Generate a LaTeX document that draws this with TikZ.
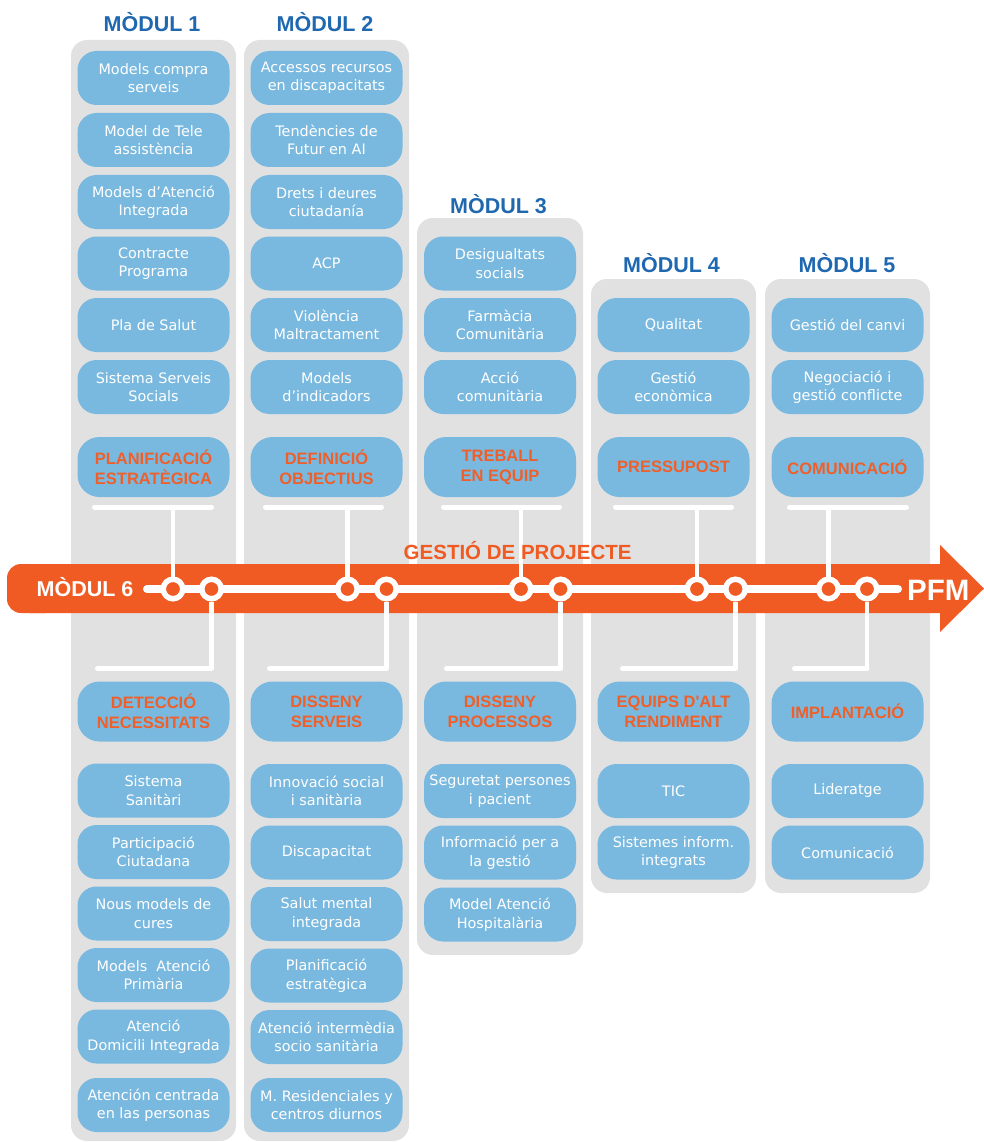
\documentclass[tikz,border=0pt]{standalone}
\usepackage{fontspec}
\setmainfont{DejaVu Sans}
\newfontfamily\hfont{Liberation Sans}
\definecolor{orng}{HTML}{EF5B23}
\definecolor{orngtxt}{HTML}{EF5F2A}
\definecolor{hblue}{HTML}{1F68B0}
\definecolor{bxblue}{HTML}{7AB9DF}
\definecolor{pgray}{HTML}{E1E1E1}
\tikzset{
 item/.style={fill=bxblue, rounded corners=19pt, minimum width=152pt, minimum height=54pt, inner sep=0pt, align=center, text=white, font=\fontsize{14.4}{18.5}\selectfont},
 ttl/.style={item, minimum height=60pt, rounded corners=22pt, text=orngtxt, font=\hfont\bfseries\fontsize{16.5}{20}\selectfont},
 hdr/.style={anchor=base, text=hblue, font=\hfont\bfseries\fontsize{21.5}{24}\selectfont, inner sep=0pt},
 panel/.style={fill=pgray, rounded corners=16pt},
 dot/.style={circle, minimum size=19.5pt, inner sep=0pt, draw=white, line width=5.5pt, fill=orng},
 stem/.style={draw=white, line width=4.5pt},
 bar/.style={draw=white, line width=5pt, line cap=round},
 bandtxt/.style={anchor=base west, inner sep=0pt, text=white, font=\hfont\bfseries\fontsize{21.5}{24}\selectfont},
}
\begin{document}
\begin{tikzpicture}[x=1pt,y=-1pt]
\useasboundingbox (0,0) rectangle (984,1142);
% panels
\fill[panel] (71,40) rectangle (236,1141);
\fill[panel] (244,40) rectangle (409,1141);
\fill[panel] (417,218) rectangle (583,955);
\fill[panel] (591,279) rectangle (756,893);
\fill[panel] (765,279) rectangle (930,893);
% headers
\node[hdr] (h1) at (152,32) {MÒDUL 1};
\node[hdr] (h2) at (325,32) {MÒDUL 2};
\node[hdr] (h3) at (498.5,213) {MÒDUL 3};
\node[hdr] (h4) at (671.5,272) {MÒDUL 4};
\node[hdr] (h5) at (847,272) {MÒDUL 5};
% column 1 top
\node[item] (a1) at (153.5,78) {Models compra\\serveis};
\node[item] (a2) at (153.5,140) {Model de Tele\\assistència};
\node[item] (a3) at (153.5,202) {Models d'Atenció\\Integrada};
\node[item] (a4) at (153.5,263.5) {Contracte\\Programa};
\node[item] (a5) at (153.5,325) {Pla de Salut};
\node[item] (a6) at (153.5,387) {Sistema Serveis\\Socials};
\node[ttl] (t1) at (153.5,467) {PLANIFICACIÓ\\ESTRATÈGICA};
% column 2 top
\node[item] (b1) at (326.5,78) {Accessos recursos\\en discapacitats};
\node[item] (b2) at (326.5,140) {Tendències de\\Futur en AI};
\node[item] (b3) at (326.5,202) {Drets i deures\\ciutadanía};
\node[item] (b4) at (326.5,263.5) {ACP};
\node[item] (b5) at (326.5,325) {Violència\\Maltractament};
\node[item] (b6) at (326.5,387) {Models\\d'indicadors};
\node[ttl] (t2) at (326.5,467) {DEFINICIÓ\\OBJECTIUS};
% column 3 top
\node[item] (c1) at (500,263.5) {Desigualtats\\socials};
\node[item] (c2) at (500,325) {Farmàcia\\Comunitària};
\node[item] (c3) at (500,387) {Acció\\comunitària};
\node[ttl] (t3) at (500,467) {TREBALL\\EN EQUIP};
% column 4 top
\node[item] (d1) at (673.5,325) {Qualitat};
\node[item] (d2) at (673.5,387) {Gestió\\econòmica};
\node[ttl] (t4) at (673.5,467) {PRESSUPOST};
% column 5 top
\node[item] (e1) at (847.5,325) {Gestió del canvi};
\node[item] (e2) at (847.5,387) {Negociació i\\gestió conflicte};
\node[ttl] (t5) at (847.5,467) {COMUNICACIÓ};
% bottom titles
\node[ttl] (s1) at (153.5,711.5) {DETECCIÓ\\NECESSITATS};
\node[ttl] (s2) at (326.5,711.5) {DISSENY\\SERVEIS};
\node[ttl] (s3) at (500,711.5) {DISSENY\\PROCESSOS};
\node[ttl] (s4) at (673.5,711.5) {EQUIPS D'ALT\\RENDIMENT};
\node[ttl] (s5) at (847.5,711.5) {IMPLANTACIÓ};
% bottom column 1
\node[item] (p1) at (153.5,790.5) {Sistema\\Sanitàri};
\node[item] (p2) at (153.5,852) {Participació\\Ciutadana};
\node[item] (p3) at (153.5,913.5) {Nous models de\\cures};
\node[item] (p4) at (153.5,975) {Models\ \ Atenció\\Primària};
\node[item] (p5) at (153.5,1036.5) {Atenció\\Domicili Integrada};
\node[item] (p6) at (153.5,1105) {Atención centrada\\en las personas};
% bottom column 2
\node[item] (q1) at (326.5,791) {Innovació social\\i sanitària};
\node[item] (q2) at (326.5,852.5) {Discapacitat};
\node[item] (q3) at (326.5,914) {Salut mental\\integrada};
\node[item] (q4) at (326.5,975.5) {Planificació\\estratègica};
\node[item] (q5) at (326.5,1037) {Atenció intermèdia\\socio sanitària};
\node[item] (q6) at (326.5,1105) {M. Residenciales y\\centros diurnos};
% bottom column 3
\node[item] (r1) at (500,791) {Seguretat persones\\i pacient};
\node[item] (r2) at (500,852.5) {Informació per a\\la gestió};
\node[item] (r3) at (500,914.5) {Model Atenció\\Hospitalària};
% bottom column 4
\node[item] (v1) at (673.5,791) {TIC};
\node[item] (v2) at (673.5,852.5) {Sistemes inform.\\integrats};
% bottom column 5
\node[item] (w1) at (847.5,791) {Lideratge};
\node[item] (w2) at (847.5,852.5) {Comunicació};
% band arrow
\fill[orng, rounded corners=14pt] (7,564) rectangle (60,613);
\fill[orng] (30,564) -- (940,564) -- (940,545) -- (984,588.5) -- (940,632) -- (940,613) -- (30,613) -- cycle;
\node[bandtxt] (m6) at (36.5,596.5) {MÒDUL 6};
\node[bandtxt, font=\hfont\bfseries\fontsize{29.5}{31}\selectfont] (pfm) at (907,600.5) {PFM};
% main line
\coordinate (ls) at (147,589);
\coordinate (le) at (898,589);
\draw[white, line width=8pt, line cap=round] (ls) -- (le);
% dots
\node[dot] (u1) at (173,589) {};
\node[dot] (l1) at (211.5,589) {};
\node[dot] (u2) at (347.5,589) {};
\node[dot] (l2) at (386.5,589) {};
\node[dot] (u3) at (521,589) {};
\node[dot] (l3) at (560.5,589) {};
\node[dot] (u4) at (697,589) {};
\node[dot] (l4) at (735.5,589) {};
\node[dot] (u5) at (828.5,589) {};
\node[dot] (l5) at (867,589) {};
% upper bars
\coordinate (ua1) at (94.5,507);  \coordinate (ub1) at (211.5,507);
\coordinate (ua2) at (265.5,507); \coordinate (ub2) at (381.5,507);
\coordinate (ua3) at (443.5,507); \coordinate (ub3) at (559.5,507);
\coordinate (ua4) at (615.5,507); \coordinate (ub4) at (731.5,507);
\coordinate (ua5) at (789.5,507); \coordinate (ub5) at (906.5,507);
\foreach \i in {1,...,5}{
  \draw[bar] (ua\i) -- (ub\i);
  \draw[stem] (u\i.north) -- (u\i.north |- ua\i);
}
% lower bars
\coordinate (la1) at (97.5,668.5);
\coordinate (la2) at (269.5,668.5);
\coordinate (la3) at (446.5,668.5);
\coordinate (la4) at (622.5,668.5);
\coordinate (la5) at (794.5,668.5);
\foreach \i in {1,...,5}{
  \draw[bar] (la\i) -- (la\i -| l\i);
  \draw[stem] (l\i.south) -- (la\i -| l\i);
}
% band title on top
\node[anchor=base west, inner sep=0pt, text=orng, font=\hfont\bfseries\fontsize{20.5}{22}\selectfont] (gp) at (403.5,559.5) {GESTIÓ DE PROJECTE};
\end{tikzpicture}
\end{document}
